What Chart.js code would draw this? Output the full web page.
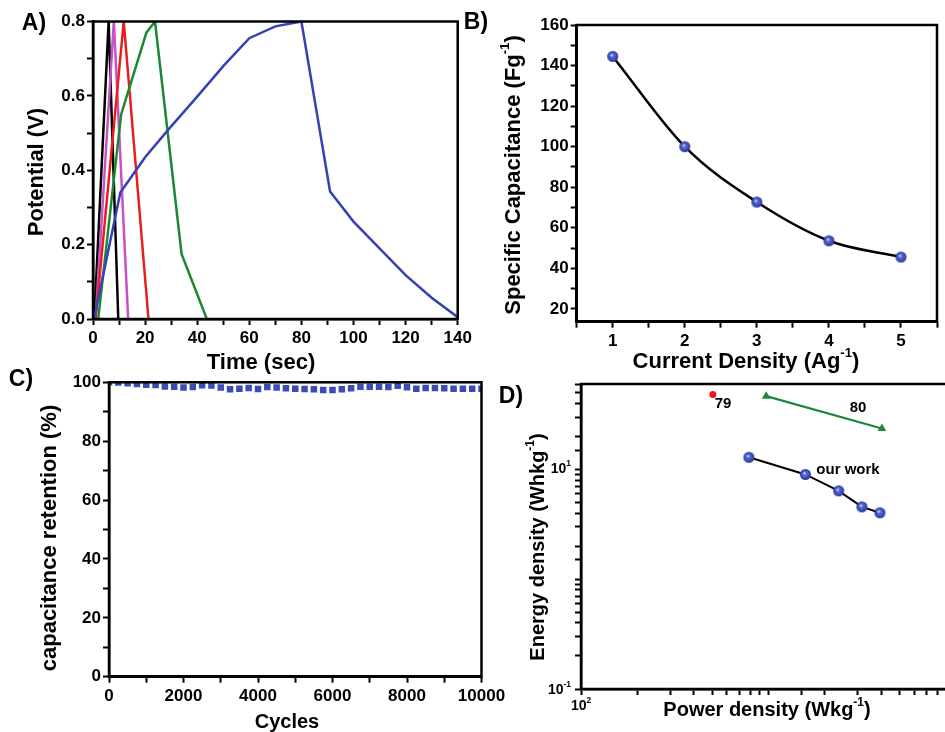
<!DOCTYPE html>
<html>
<head>
<meta charset="utf-8">
<script src="https://cdn.jsdelivr.net/npm/chart.js@4.4.1/dist/chart.umd.min.js"></script>
<style>
  html, body { margin: 0; padding: 0; background: #fff; overflow: hidden; width: 945px; height: 732px; }
  canvas { position: absolute; left: 0; top: 0; }
</style>
</head>
<body>
<canvas id="chartA" width="945" height="732"></canvas>
<canvas id="chartB" width="945" height="732"></canvas>
<canvas id="chartC" width="945" height="732"></canvas>
<canvas id="chartD" width="1000" height="732"></canvas>
<script>
// ===== A) charge / discharge curves =====
const blackTime = [0.5, 6.0, 9.7];
const blackV = [0, 0.8, 0];
const magentaTime = [1.0, 8.0, 13.5];
const magentaV = [0, 0.8, 0];
const redTime = [1.0, 11.8, 21.3];
const redV = [0, 0.8, 0];
const greenTime = [2.0, 10.8, 20.5, 23.8, 34.0, 43.7];
const greenV = [0, 0.55, 0.77, 0.8, 0.175, 0];
const blueTime = [0.4, 10.5, 20, 29, 40, 50, 60, 70, 80, 91, 100, 110, 120, 130, 140];
const blueV = [0, 0.34, 0.435, 0.51, 0.598, 0.68, 0.755, 0.787, 0.8, 0.343, 0.262, 0.19, 0.118, 0.057, 0.005];

// ===== B) specific capacitance =====
const currentDensity = [1, 2, 3, 4, 5];
const specCapacitance = [144.5, 100, 72.7, 53.6, 45.6];

// ===== C) cycling =====
const cycles = [0, 250, 500, 750, 1000, 1250, 1500, 1750, 2000, 2250, 2500, 2750, 3000, 3250, 3500,
  3750, 4000, 4250, 4500, 4750, 5000, 5250, 5500, 5750, 6000, 6250, 6500, 6750, 7000, 7250,
  7500, 7750, 8000, 8250, 8500, 8750, 9000, 9250, 9500, 9750, 10000];
const retention = [100, 99.9, 99.7, 99.4, 99.2, 99.1, 98.6, 98.5, 98.2, 98.4, 99.0, 98.9, 98.2, 97.6, 97.8,
  98.1, 97.7, 98.4, 98.2, 98.0, 97.8, 97.7, 97.6, 97.4, 97.4, 97.6, 98.0, 98.5, 98.5, 98.5,
  98.4, 98.8, 98.3, 97.8, 98.1, 98.1, 98.0, 97.8, 97.8, 97.8, 97.8];

// ===== D) Ragone plot =====
const ref79Power = [505];
const ref79Energy = [48.2];
const ref80Power = [972, 4025];
const ref80Energy = [46.5, 23.6];
const ourPower = [786, 1573, 2366, 3150, 3928];
const ourEnergy = [12.9, 9.0, 6.38, 4.56, 4.03];
const dYLabelExp = [-1, 1];
const dXLabelExp = [2];

const FONT = "'Liberation Sans', Arial, sans-serif";
const BLUE = 'rgb(52, 66, 178)';

const zip = (xs, ys) => xs.map((x, i) => ({ x, y: ys[i] }));

// small shaded ball used as point marker
function sphere(r) {
  const c = document.createElement('canvas');
  c.width = c.height = 2 * r + 2;
  const g = c.getContext('2d');
  const m = r + 1;
  const grad = g.createRadialGradient(m - r * 0.2, m - r * 0.25, r * 0.05, m, m, r);
  grad.addColorStop(0, '#eef0ff');
  grad.addColorStop(0.25, '#5b6fd6');
  grad.addColorStop(1, '#27369c');
  g.fillStyle = grad;
  g.beginPath();
  g.arc(m, m, r, 0, Math.PI * 2);
  g.fill();
  return c;
}

// text with ^{sup} parts
function drawRich(ctx, chart, it) {
  const x = typeof it.x === 'function' ? it.x(chart) : it.x;
  const y = typeof it.y === 'function' ? it.y(chart) : it.y;
  const size = it.size;
  const bits = it.text.split(/\^\{(.*?)\}/);
  ctx.save();
  ctx.translate(x, y);
  if (it.rot) ctx.rotate(it.rot);
  ctx.fillStyle = '#000';
  ctx.textBaseline = 'middle';
  ctx.textAlign = 'left';
  const pieces = bits.map((t, i) => {
    const s = i % 2 ? size * 0.6 : size;
    ctx.font = `bold ${s}px ${FONT}`;
    return { t, s, sup: i % 2 === 1, w: ctx.measureText(t).width };
  });
  const total = pieces.reduce((a, p) => a + p.w, 0);
  let cx = it.align === 'right' ? -total : it.align === 'left' ? 0 : -total / 2;
  for (const p of pieces) {
    ctx.font = `bold ${p.s}px ${FONT}`;
    ctx.fillText(p.t, cx, p.sup ? -size * 0.38 : 0);
    cx += p.w;
  }
  ctx.restore();
}

const framePlugin = {
  id: 'frame',
  afterDraw(chart) {
    const a = chart.chartArea;
    const ctx = chart.ctx;
    ctx.save();
    ctx.strokeStyle = '#000';
    ctx.lineWidth = 2.5;
    ctx.strokeRect(a.left, a.top, a.right - a.left, a.bottom - a.top);
    ctx.restore();
  }
};

function textPlugin(items) {
  return {
    id: 'texts',
    afterDraw(chart) {
      items.forEach(it => drawRich(chart.ctx, chart, it));
    }
  };
}

function axis(opts) {
  return {
    type: opts.type || 'linear',
    position: opts.position,
    min: opts.min,
    max: opts.max,
    afterFit: s => {
      if (opts.position === 'left') s.width = opts.size;
      else s.height = opts.size;
    },
    grid: { drawOnChartArea: false, drawTicks: true, tickLength: 6, tickWidth: 2, tickColor: '#000' },
    border: { display: true, color: '#000', width: 2.5 },
    ticks: {
      stepSize: opts.step,
      includeBounds: false,
      autoSkip: false,
      maxRotation: 0,
      padding: opts.position === 'left' ? 2 : 3,
      color: '#000',
      font: { family: FONT, size: 17, weight: 'bold' },
      callback: opts.label
    }
  };
}

function baseOptions(padding, scales) {
  return {
    responsive: false,
    animation: false,
    layout: { padding },
    plugins: { legend: { display: false }, tooltip: { enabled: false } },
    scales
  };
}

// ===== chart A =====
new Chart(document.getElementById('chartA'), {
  type: 'line',
  data: {
    datasets: [
      { data: zip(blueTime, blueV), borderColor: BLUE },
      { data: zip(greenTime, greenV), borderColor: 'rgb(30, 135, 55)' },
      { data: zip(redTime, redV), borderColor: 'rgb(232, 30, 30)' },
      { data: zip(magentaTime, magentaV), borderColor: 'rgb(200, 80, 200)' },
      { data: zip(blackTime, blackV), borderColor: '#000' }
    ].map(d => Object.assign(d, { borderWidth: 2.5, pointRadius: 0, tension: 0, fill: false }))
  },
  options: baseOptions({ left: 0, top: 21.5, right: 945 - 457.7, bottom: 732 - 319 - 30 }, {
    x: axis({ position: 'bottom', min: 0, max: 140, step: 10, size: 30,
      label: v => (v % 20 === 0 ? String(v) : '') }),
    y: axis({ position: 'left', min: 0, max: 0.8, step: 0.1, size: 93,
      label: v => (Math.round(v * 10) % 2 === 0 ? v.toFixed(1) : '') })
  }),
  plugins: [framePlugin, textPlugin([
    { text: 'A)', x: 34, y: 24, size: 23 },
    { text: 'Potential (V)', x: 37, y: 172, size: 22, rot: -Math.PI / 2 },
    { text: 'Time (sec)', x: 261, y: 363, size: 22 }
  ])]
});

// ===== chart B =====
new Chart(document.getElementById('chartB'), {
  type: 'line',
  data: {
    datasets: [{
      data: zip(currentDensity, specCapacitance),
      borderColor: '#000',
      borderWidth: 2.5,
      cubicInterpolationMode: 'monotone',
      pointStyle: sphere(5.5),
      pointRadius: 5.5
    }]
  },
  options: baseOptions({ left: 0, top: 25, right: 945 - 938.3, bottom: 732 - 321.7 - 30 }, {
    x: axis({ position: 'bottom', min: 0.5, max: 5.5, step: 0.5, size: 30,
      label: v => (Number.isInteger(v) ? String(v) : '') }),
    y: axis({ position: 'left', min: 13.7, max: 160, step: 10, size: 576.7,
      label: v => (v % 20 === 0 ? String(v) : '') })
  }),
  plugins: [framePlugin, textPlugin([
    { text: 'B)', x: 476, y: 23, size: 23 },
    { text: 'Specific Capacitance (Fg^{-1})', x: 514, y: 175, size: 22, rot: -Math.PI / 2 },
    { text: 'Current Density (Ag^{-1})', x: 746, y: 362, size: 22 }
  ])]
});

// ===== chart C =====
new Chart(document.getElementById('chartC'), {
  type: 'scatter',
  data: {
    datasets: [{
      data: zip(cycles, retention),
      pointStyle: 'rect',
      pointRadius: 4.6,
      backgroundColor: 'rgb(58, 76, 184)',
      borderWidth: 0
    }]
  },
  options: baseOptions({ left: 0, top: 382.3, right: 945 - 481.5, bottom: 732 - 676.7 - 30 }, {
    x: axis({ position: 'bottom', min: 0, max: 10000, step: 1000, size: 30,
      label: v => (v % 2000 === 0 ? String(v) : '') }),
    y: axis({ position: 'left', min: 0, max: 100, step: 10, size: 109,
      label: v => (v % 20 === 0 ? String(v) : '') })
  }),
  plugins: [framePlugin, textPlugin([
    { text: 'C)', x: 21, y: 380, size: 23 },
    { text: 'capacitance retention (%)', x: 50, y: 538, size: 22, rot: -Math.PI / 2 },
    { text: 'Cycles', x: 287, y: 722, size: 20 }
  ])]
});

// ===== chart D =====
const dLabels = [
  ...dYLabelExp.map(e => ({ text: `10^{${e}}`, size: 14, align: 'right',
    x: 571, y: ch => ch.scales.y.getPixelForValue(Math.pow(10, e)) + (e < 0 ? 1 : 0) })),
  ...dXLabelExp.map(e => ({ text: `10^{${e}}`, size: 14,
    x: ch => ch.scales.x.getPixelForValue(Math.pow(10, e)), y: 706 }))
];

new Chart(document.getElementById('chartD'), {
  type: 'line',
  data: {
    datasets: [
      { data: zip(ourPower, ourEnergy), borderColor: '#000', borderWidth: 2,
        pointStyle: sphere(5.5), pointRadius: 5.5 },
      { data: zip(ref80Power, ref80Energy), borderColor: 'rgb(30, 135, 55)', borderWidth: 2.2,
        pointStyle: 'triangle', pointRadius: 5, pointBackgroundColor: 'rgb(30, 135, 55)', pointBorderWidth: 0 },
      { data: zip(ref79Power, ref79Energy), showLine: false,
        pointStyle: 'circle', pointRadius: 3.5, pointBackgroundColor: 'rgb(235, 25, 25)', pointBorderWidth: 0 }
    ]
  },
  options: baseOptions({ left: 0, top: 384, right: 1000 - 956, bottom: 732 - 689 - 30 }, {
    x: axis({ type: 'logarithmic', position: 'bottom', min: 100, max: 10000, size: 30, label: () => '' }),
    y: axis({ type: 'logarithmic', position: 'left', min: 0.1, max: 60, size: 581, label: () => '' })
  }),
  plugins: [framePlugin, textPlugin([
    { text: 'D)', x: 511, y: 397, size: 23 },
    { text: 'Energy density (Whkg^{-1})', x: 538, y: 547, size: 20, rot: -Math.PI / 2 },
    { text: 'Power density (Wkg^{-1})', x: 767, y: 710, size: 20 },
    { text: '79', x: 723, y: 404, size: 15 },
    { text: '80', x: 858, y: 408, size: 15 },
    { text: 'our work', x: 848, y: 470, size: 15 },
    ...dLabels
  ])]
});
</script>
</body>
</html>
